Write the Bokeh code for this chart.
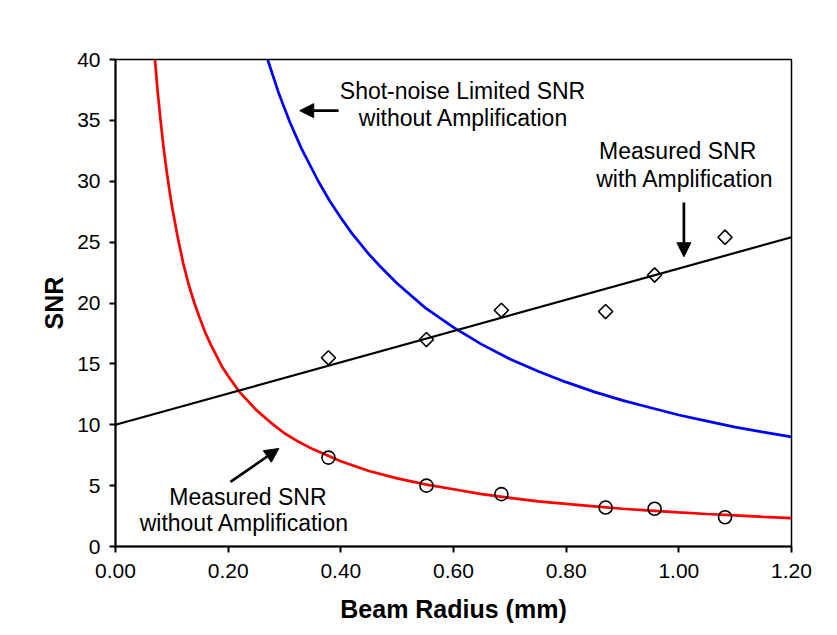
import math
from bokeh.plotting import figure
from bokeh.models import Range1d, FixedTicker, Arrow, NormalHead, Label
from bokeh.embed import file_html
from bokeh.resources import INLINE

# ---- data ----
beam_radius = [0.378, 0.552, 0.685, 0.870, 0.957, 1.082]
snr_without_amp = [7.3, 5.0, 4.3, 3.2, 3.1, 2.4]
snr_with_amp = [15.5, 17.0, 19.4, 19.3, 22.3, 25.4]

fit_x = [0.0, 1.2]
fit_y = [10.0, 25.4]

red_x = [0.07, 0.075, 0.08, 0.085, 0.09, 0.095, 0.10, 0.11, 0.12, 0.13, 0.14, 0.15,
         0.16, 0.17, 0.18, 0.19, 0.20, 0.22, 0.25, 0.275, 0.30, 0.325, 0.35, 0.40,
         0.45, 0.50, 0.55, 0.60, 0.65, 0.70, 0.75, 0.80, 0.85, 0.90, 0.95, 1.00,
         1.05, 1.10, 1.15, 1.20]
red_y = [40.0, 37.3, 35.0, 32.9, 31.1, 29.5, 28.0, 25.5, 23.3, 21.5, 20.0, 18.7,
         17.5, 16.5, 15.6, 14.7, 14.0, 12.7, 11.2, 10.2, 9.3, 8.6, 8.0, 7.0,
         6.2, 5.6, 5.1, 4.7, 4.3, 4.0, 3.7, 3.5, 3.3, 3.1, 2.95, 2.8,
         2.67, 2.55, 2.43, 2.33]

blue_x = [0.27, 0.28, 0.29, 0.30, 0.31, 0.32, 0.33, 0.34, 0.36, 0.38, 0.40, 0.42,
          0.45, 0.47, 0.50, 0.55, 0.60, 0.65, 0.70, 0.75, 0.80, 0.85, 0.90, 0.95,
          1.00, 1.05, 1.10, 1.15, 1.20]
blue_y = [40.0, 38.6, 37.2, 36.0, 34.8, 33.75, 32.7, 31.8, 30.0, 28.4, 27.0, 25.7,
          24.0, 23.0, 21.6, 19.6, 18.0, 16.6, 15.4, 14.4, 13.5, 12.7, 12.0, 11.4,
          10.8, 10.3, 9.8, 9.4, 9.0]

x_ticks = [0.0, 0.2, 0.4, 0.6, 0.8, 1.0, 1.2]
x_tick_labels = ["0.00", "0.20", "0.40", "0.60", "0.80", "1.00", "1.20"]
y_ticks = [0, 5, 10, 15, 20, 25, 30, 35, 40]
y_tick_labels = ["0", "5", "10", "15", "20", "25", "30", "35", "40"]

FONT = "Liberation Sans"

p = figure(width=836, height=634, output_backend="svg", toolbar_location=None,
           x_range=Range1d(0, 1.2), y_range=Range1d(0, 40),
           min_border_left=115, min_border_right=45, min_border_top=59,
           min_border_bottom=88)
p.background_fill_color = "white"
p.border_fill_color = "white"
p.outline_line_color = "black"
p.outline_line_width = 1.5
p.xgrid.visible = False
p.ygrid.visible = False

for ax in (p.xaxis[0], p.yaxis[0]):
    ax.axis_line_width = 2
    ax.axis_line_color = "black"
    ax.major_tick_line_width = 2
    ax.major_tick_line_color = "black"
    ax.major_tick_out = 6
    ax.major_tick_in = 0
    ax.minor_tick_line_color = None
    ax.major_label_text_font = FONT
    ax.major_label_text_font_size = "21px"
    ax.major_label_text_color = "black"
    ax.axis_label_text_font = FONT
    ax.axis_label_text_font_size = "25px"
    ax.axis_label_text_font_style = "bold"
    ax.axis_label_text_color = "black"

p.xaxis.ticker = FixedTicker(ticks=x_ticks)
p.xaxis.major_label_overrides = dict(zip(x_ticks, x_tick_labels))
p.yaxis.ticker = FixedTicker(ticks=y_ticks)
p.yaxis.major_label_overrides = dict(zip(y_ticks, y_tick_labels))
p.xaxis.axis_label = "Beam Radius (mm)"
p.yaxis.axis_label = "SNR"
p.xaxis.major_label_standoff = 11
p.yaxis.major_label_standoff = 9
p.xaxis.axis_label_standoff = 14
p.yaxis.axis_label_standoff = 6

# curves
p.line(blue_x, blue_y, line_color="#0000ff", line_width=2.7)
p.line(red_x, red_y, line_color="#ff0000", line_width=2.7)
p.line(fit_x, fit_y, line_color="black", line_width=2.2)

p.scatter(beam_radius, snr_without_amp, marker="circle", size=13,
          fill_color=None, line_color="black", line_width=1.6)
p.scatter(beam_radius, snr_with_amp, marker="square", size=10, angle=math.pi / 4,
          fill_color=None, line_color="black", line_width=1.6)

# arrows
def arrow(x0, y0, x1, y1):
    p.add_layout(Arrow(end=NormalHead(size=14, fill_color="black", line_color="black"),
                       x_start=x0, y_start=y0, x_end=x1, y_end=y1,
                       line_width=2.7, line_color="black"))

arrow(0.396, 35.8, 0.327, 35.8)
arrow(1.009, 28.25, 1.009, 23.8)
arrow(0.204, 5.3, 0.29, 8.05)

# annotations
notes = [
    (0.616, 37.45, "Shot-noise Limited SNR"),
    (0.618, 35.2, "without Amplification"),
    (0.998, 32.5, "Measured SNR"),
    (1.011, 30.2, "with Amplification"),
    (0.235, 4.1, "Measured SNR"),
    (0.229, 1.9, "without Amplification"),
]
for x, y, t in notes:
    p.add_layout(Label(x=x, y=y, text=t, text_align="center", text_baseline="middle",
                       text_font=FONT, text_font_size="23px", text_color="black"))

open("out.html", "w").write(file_html(p, INLINE))
